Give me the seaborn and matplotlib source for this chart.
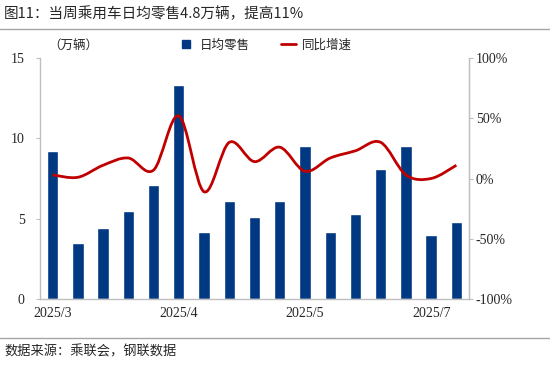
import numpy as np
import pandas as pd
import matplotlib.pyplot as plt
import seaborn as sns
from matplotlib.path import Path
from matplotlib.patches import PathPatch
from matplotlib.lines import Line2D

# DATA
weeks = list(range(17))
tick_labels = ['2025/3', '', '', '', '', '2025/4', '', '', '', '', '2025/5', '', '', '', '', '2025/7', '']
daily_sales = [9.2, 3.5, 4.4, 5.5, 7.1, 13.3, 4.2, 6.1, 5.1, 6.1, 9.5, 4.2, 5.3, 8.1, 9.5, 4.0, 4.8]
yoy_growth = [3, 1, 11, 17, 7, 52, -11, 30, 14, 26, 6, 17, 23, 30, 3, 0, 11]

df = pd.DataFrame({'week': weeks, 'sales': daily_sales, 'yoy': yoy_growth})

BLUE = '#003882'
RED = '#C00000'
GRID = '#BFBFBF'

sns.set_style('white')
plt.rcParams['font.family'] = ['Liberation Serif', 'Noto Sans CJK SC']
cjk = ['Noto Sans CJK SC', 'DejaVu Sans']

fig = plt.figure(figsize=(5.5, 3.67), dpi=100)
ax = fig.add_axes([40 / 550, 1 - 299 / 367, 429 / 550, 241 / 367])

sns.barplot(data=df, x='week', y='sales', color=BLUE, width=0.45,
            saturation=1, ax=ax, native_scale=True)
ax.set_xlim(-0.5, 16.5)
ax.set_ylim(0, 15)
ax.set_yticks([0, 5, 10, 15])
ax.set_xticks(weeks)
ax.set_xticklabels(tick_labels, fontsize=10)
ax.set_xlabel('')
ax.set_ylabel('')
ax.tick_params(axis='x', length=0, pad=6)
ax.tick_params(axis='y', length=3, color=GRID, labelsize=10, pad=8)
ax.spines['top'].set_visible(False)
for s in ['left', 'bottom', 'right']:
    ax.spines[s].set_color(GRID)
    ax.spines[s].set_linewidth(1)

# smooth YoY line (Catmull-Rom as bezier)
ax2 = ax.twinx()
ax2.set_ylim(-100, 100)
ax2.set_yticks([-100, -50, 0, 50, 100])
ax2.set_yticklabels(['-100%', '-50%', '0%', '50%', '100%'])
ax2.tick_params(axis='y', length=3, color=GRID, labelsize=10, pad=2)
for s in ['top', 'left', 'bottom']:
    ax2.spines[s].set_visible(False)
ax2.spines['right'].set_color(GRID)

pts = np.column_stack([df['week'], df['yoy']]).astype(float)
verts = [pts[0]]
codes = [Path.MOVETO]
n = len(pts)
for i in range(n - 1):
    p0 = pts[max(i - 1, 0)]
    p1 = pts[i]
    p2 = pts[i + 1]
    p3 = pts[min(i + 2, n - 1)]
    c1 = p1 + (p2 - p0) / 6
    c2 = p2 - (p3 - p1) / 6
    verts += [c1, c2, p2]
    codes += [Path.CURVE4] * 3
ax2.add_patch(PathPatch(Path(verts, codes), facecolor='none', edgecolor=RED, lw=2))

# unit label and legend
fig.text(48 / 550, 1 - 45 / 367, '（万辆）', family=cjk, fontsize=9, va='center')
handles = [Line2D([], [], marker='s', color='none', markerfacecolor=BLUE, markeredgecolor=BLUE, markersize=5.5),
           Line2D([], [], color=RED, lw=2)]
fig.legend(handles, ['日均零售', '同比增速'], loc='center', bbox_to_anchor=(265 / 550, 1 - 45 / 367),
           ncol=2, frameon=False, prop={'family': cjk, 'size': 9}, handlelength=1.2,
           columnspacing=2.5, handletextpad=0.5)

# title and source
fig.text(4 / 550, 1 - 14 / 367, '图11：当周乘用车日均零售4.8万辆，提高11%', family=cjk,
         fontsize=10.5, va='center')
fig.add_artist(Line2D([0, 1], [1 - 29 / 367, 1 - 29 / 367], color='#A6A6A6', lw=1))
fig.add_artist(Line2D([0, 1], [1 - 338 / 367, 1 - 338 / 367], color='#A6A6A6', lw=1))
fig.text(4 / 550, 1 - 352 / 367, '数据来源：乘联会，钢联数据', family=cjk, fontsize=9.5, va='center')

fig.savefig('out.png', dpi=100)
